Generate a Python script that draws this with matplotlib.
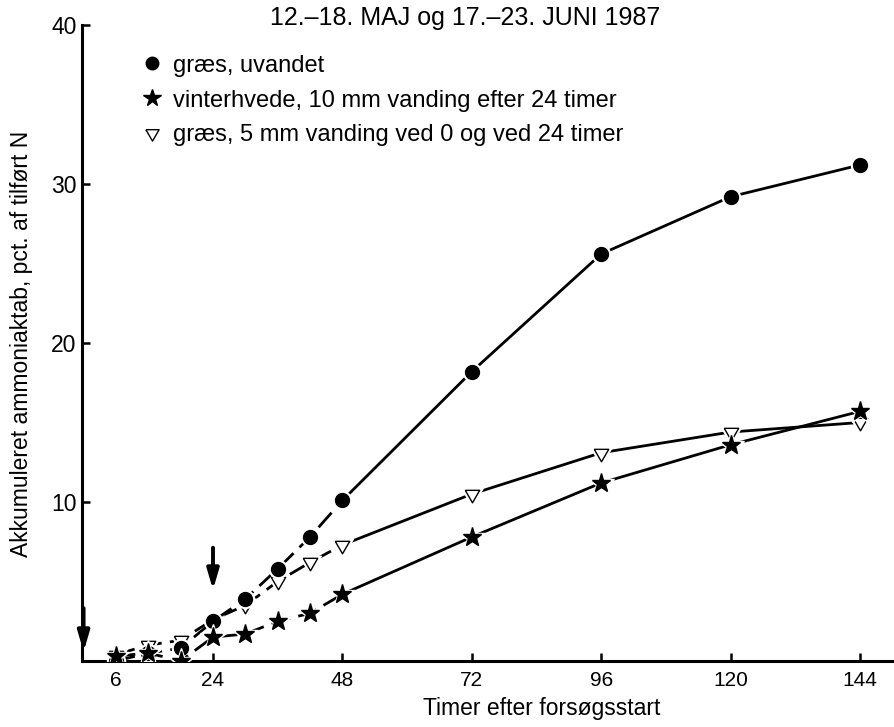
import numpy as np
import matplotlib.pyplot as plt

plt.rcParams['font.family'] = ['Liberation Sans', 'DejaVu Sans']

# timer efter forsøgsstart
timer = [6, 12, 18, 24, 30, 36, 42, 48, 72, 96, 120, 144]

# akkumuleret ammoniaktab, pct. af tilført N
graes_uvandet = [0.0, 0.5, 0.8, 2.5, 3.9, 5.8, 7.8, 10.1, 18.2, 25.6, 29.2, 31.2]
vinterhvede = [0.3, 0.5, 0.0, 1.5, 1.7, 2.5, 3.0, 4.2, 7.8, 11.2, 13.6, 15.7]
graes_5mm = [0.4, 1.0, 1.3, 2.6, 3.5, 5.0, 6.2, 7.3, 10.5, 13.1, 14.4, 15.0]

# vanding ved 0 og 24 timer (pile)
vanding_timer = [0, 24]
pil_start = [3.5, 7.3]
pil_slut = [0.4, 4.3]

# ligesidet trekant med spidsen nedad
trekant = [(-1, 0.577), (1, 0.577), (0, -1.155), (-1, 0.577)]

# data, markør, fyldfarve, størrelse, hvid kant, tekst
serier = {
    'trekant': (graes_5mm, trekant, 'white', 12, 6, 'græs, 5 mm vanding ved 0 og ved 24 timer'),
    'cirkel': (graes_uvandet, 'o', 'black', 10, 3, 'græs, uvandet'),
    'stjerne': (vinterhvede, '*', 'black', 14, 5, 'vinterhvede, 10 mm vanding efter 24 timer'),
}

fig = plt.figure(figsize=(8.94, 7.27), dpi=100)
ax = fig.add_axes([0.0917, 0.0908, 0.9083, 0.8748])

t = np.array(timer)
handles = {}
for i, (navn, (vals, mk, fc, ms, kant, lab)) in enumerate(serier.items()):
    v = np.array(vals)
    z = 2 + 3 * i
    tidlig = t <= 48
    sen = t >= 48
    ax.plot(t[tidlig], v[tidlig], color='black', lw=2.0, ls=(0, (7, 3)), zorder=z)
    ax.plot(t[sen], v[sen], color='black', lw=2.0, zorder=z)
    # hvid kant rundt om markører, så linjen brydes
    ax.plot(t, v, ls='none', marker=mk, ms=ms + kant, mfc='white', mec='white', zorder=z + 1)
    ax.plot(t, v, ls='none', marker=mk, ms=ms, mfc=fc, mec='black', mew=1.0, zorder=z + 2)
    handles[navn], = ax.plot([], [], ls='none', marker=mk, ms=ms - 1, mfc=fc,
                             mec='black', label=lab)

# pile for vanding
for x, y0, y1 in zip(vanding_timer, pil_start, pil_slut):
    ax.annotate('', xy=(x, y1), xytext=(x, y0),
                arrowprops=dict(arrowstyle='-|>,head_width=0.35,head_length=1.2',
                                color='black', lw=2.8), zorder=20)

ax.set_xlim(-0.3, 150.3)
ax.set_ylim(0, 40)
ax.set_xticks([6, 24, 48, 72, 96, 120, 144])
ax.set_yticks([0, 10, 20, 30, 40])
ax.set_yticklabels(['', '10', '20', '30', '40'])
ax.tick_params(direction='in', length=6, width=1.8)
ax.tick_params(axis='x', labelsize=15, pad=7)
ax.tick_params(axis='y', labelsize=16.5, pad=4)
for s in ['top', 'right']:
    ax.spines[s].set_visible(False)
for s in ['left', 'bottom']:
    ax.spines[s].set_linewidth(2.2)

ax.set_xlabel('Timer efter forsøgsstart', fontsize=16.5)
ax.xaxis.set_label_coords(0.566, -0.057)
ax.set_ylabel('Akkumuleret ammoniaktab, pct. af tilført N', fontsize=16.5)
ax.yaxis.set_label_coords(-0.060, 0.498)

fig.text(0.52, 0.975, '12.–18. MAJ og 17.–23. JUNI 1987', fontsize=18,
         ha='center', va='center')

ax.legend(handles=[handles['cirkel'], handles['stjerne'], handles['trekant']],
          loc='upper left', bbox_to_anchor=(0.157, 0.925), bbox_transform=fig.transFigure,
          frameon=False, fontsize=17, handlelength=1.0, handletextpad=0.4,
          labelspacing=0.55, borderaxespad=0, borderpad=0)

fig.savefig('out.png', dpi=100)
